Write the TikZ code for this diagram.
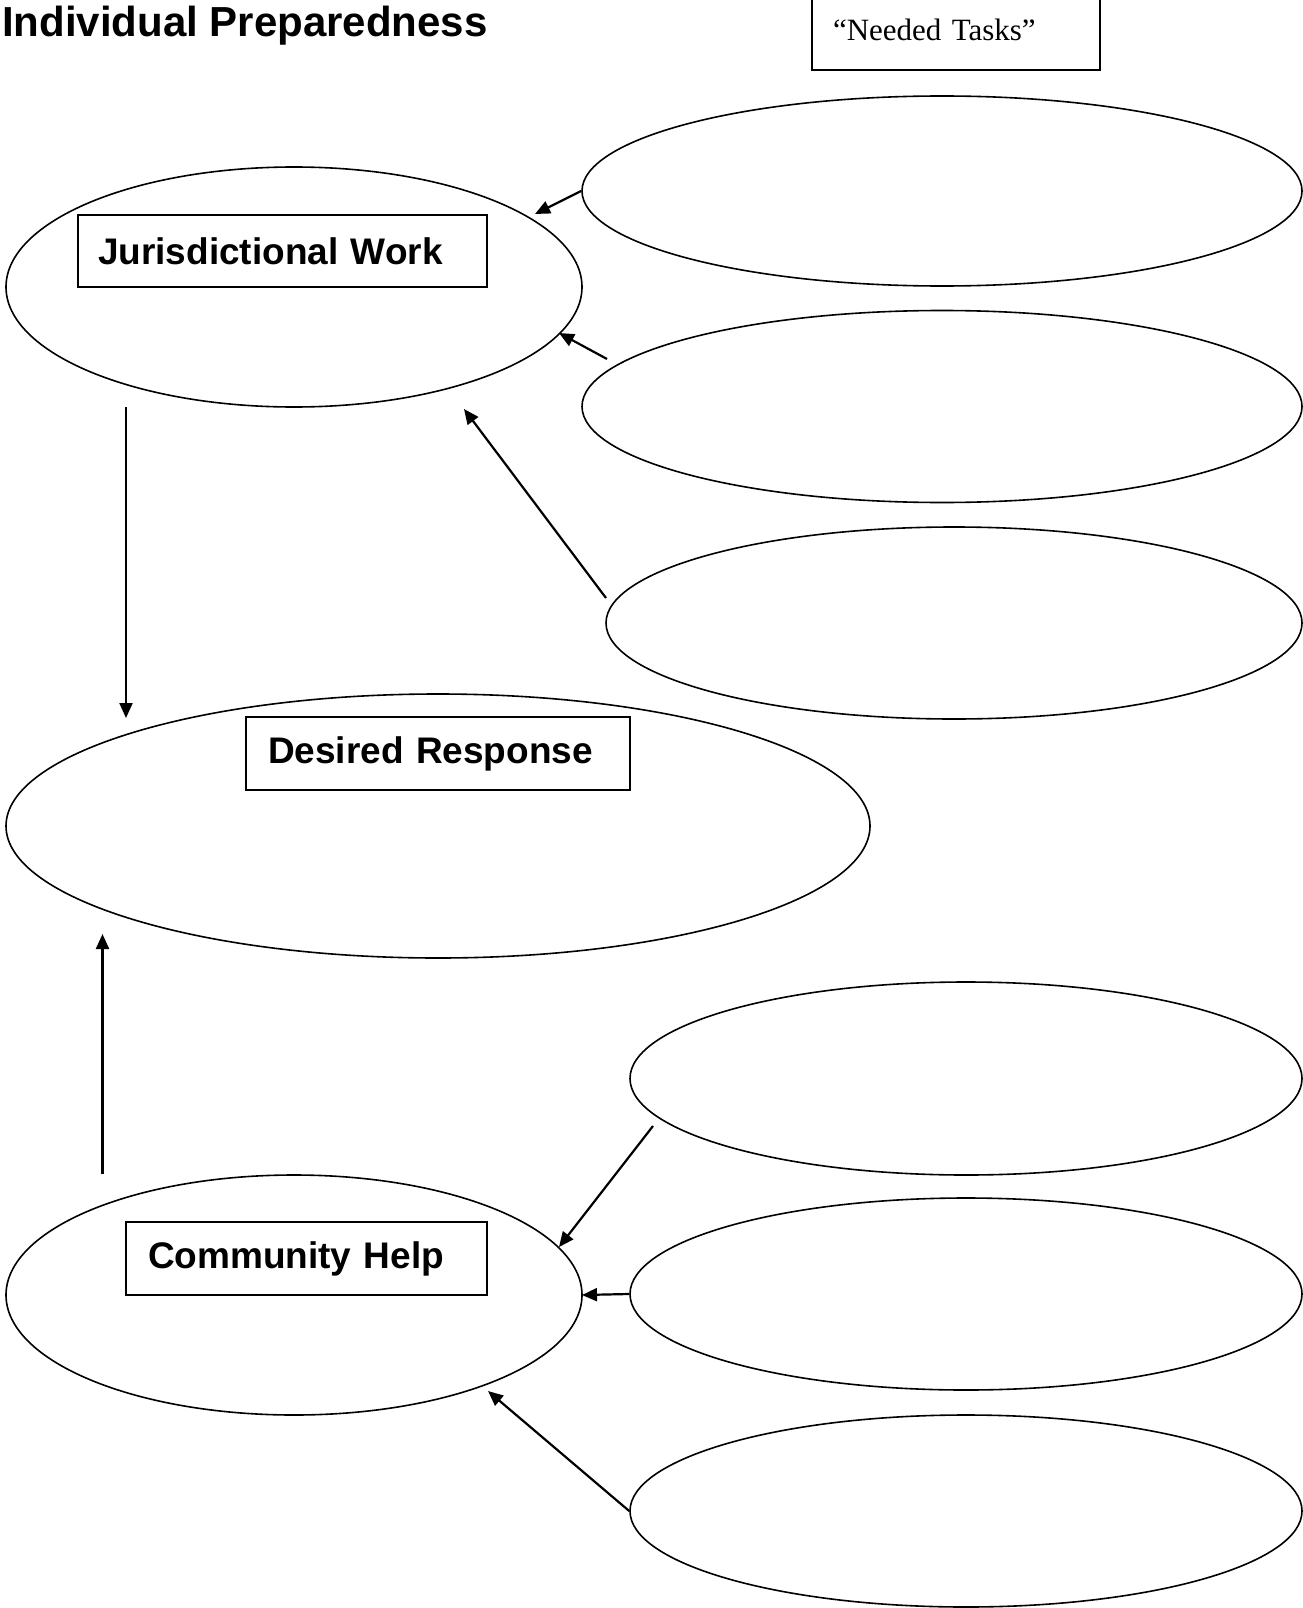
\documentclass[tikz,border=0pt]{standalone}
\usepackage{fontspec}
\setmainfont{Liberation Serif}
\newfontfamily\arialfont{Liberation Sans}
\usetikzlibrary{shapes.geometric,arrows.meta}
\begin{document}
\begin{tikzpicture}[x=1pt,y=-1pt,
  oval/.style={ellipse, draw, line width=1.6pt, inner sep=0pt},
  lbl/.style={draw, line width=2pt, font=\arialfont\bfseries\fontsize{37}{40}\selectfont, align=left, inner xsep=0pt, inner ysep=0pt},
  arr/.style={line width=2.2pt, -{Triangle[length=15pt,width=13pt]}}]
\useasboundingbox (0,0) rectangle (1302,1608);

\node[anchor=base west, inner sep=0pt, font=\arialfont\bfseries\fontsize{42}{46}\selectfont] (title) at (2,37) {Individual Preparedness};

\node[draw, line width=2pt, minimum width=288pt, minimum height=80pt, text width=246pt, align=left, inner sep=0pt, font=\fontsize{31}{34}\selectfont] (tasks) at (956,30) {“Needed Tasks”};

% ellipses
\node[oval, minimum width=720pt, minimum height=190pt] (e1) at (942,191) {};
\node[oval, minimum width=720pt, minimum height=192pt] (e2) at (942,406.5) {};
\node[oval, minimum width=696pt, minimum height=192pt] (e3) at (954,623) {};
\node[oval, minimum width=576pt, minimum height=240pt] (jur) at (294,287) {};
\node[oval, minimum width=864pt, minimum height=264pt] (des) at (438,826) {};
\node[oval, minimum width=576pt, minimum height=240pt] (com) at (294,1295) {};
\node[oval, minimum width=672pt, minimum height=193pt] (e4) at (966,1078.5) {};
\node[oval, minimum width=672pt, minimum height=192pt] (e5) at (966,1294) {};
\node[oval, minimum width=672pt, minimum height=192pt] (e6) at (966,1511) {};

% label boxes
\node[lbl, minimum width=409pt, minimum height=72pt, text width=369pt] (jw) at (282.5,251) {Jurisdictional Work};
\node[lbl, minimum width=384pt, minimum height=73pt, text width=340pt] (dr) at (438,753.5) {Desired Response};
\node[lbl, minimum width=361pt, minimum height=73pt, text width=317pt] (ch) at (306.5,1258.5) {Community Help};

% arrow end points
\coordinate (a1h) at (535,214);
\coordinate (a2t) at (607,359);
\coordinate (a2h) at (559,333);
\coordinate (a3t) at (606,598);
\coordinate (a3h) at (464,409);
\coordinate (a4t) at (126,407);
\coordinate (a4h) at (126,718);
\coordinate (a5t) at (102.5,1174);
\coordinate (a5h) at (102.5,934);
\coordinate (a6t) at (653,1126);
\coordinate (a6h) at (559,1247);
\coordinate (a7h) at (582,1295);
\coordinate (a8h) at (488,1391);

\draw[arr] (e1.west) -- (a1h);
\draw[arr] (a2t) -- (a2h);
\draw[arr] (a3t) -- (a3h);
\draw[arr] (a4t) -- (a4h);
\draw[arr] (a5t) -- (a5h);
\draw[arr] (a6t) -- (a6h);
\draw[arr] (e5.west) -- (a7h);
\draw[arr] (e6.west) -- (a8h);
\end{tikzpicture}
\end{document}
